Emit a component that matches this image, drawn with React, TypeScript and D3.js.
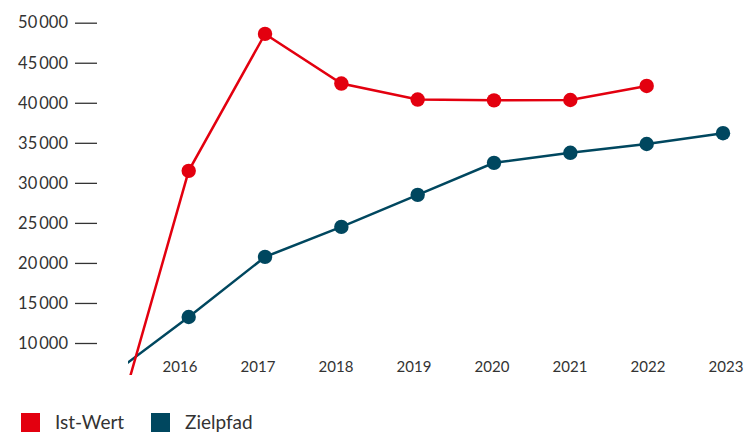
import React, { useEffect, useRef } from 'react';
import * as d3 from 'd3';

// years shown on the axis, plus 2015 where both lines start (clipped)
const years = [2015, 2016, 2017, 2018, 2019, 2020, 2021, 2022, 2023];
const labelYears = [2016, 2017, 2018, 2019, 2020, 2021, 2022, 2023];
const istWert = [-2000, 31500, 48600, 42400, 40400, 40300, 40350, 42100, null];
const zielpfad = [6100, 13250, 20750, 24500, 28500, 32500, 33750, 34850, 36200];
const yTicks = [10000, 15000, 20000, 25000, 30000, 35000, 40000, 45000, 50000];

const RED = '#e3000f';
const BLUE = '#00475f';
const TEXT = '#333333';
const FONT = 'Lato, "Open Sans", sans-serif';

export default function App() {
  const ref = useRef<SVGSVGElement | null>(null);

  useEffect(() => {
    const svg = d3.select(ref.current);
    svg.selectAll('*').remove();

    const W = 744;
    const x = d3.scaleLinear().domain([2016, 2023]).range([188.7, 723]);
    const xLabel = d3.scaleLinear().domain([2016, 2023]).range([179.5, 725.5]);
    const y = d3.scaleLinear().domain([10000, 50000]).range([343, 22.7]);

    svg.append('defs').append('clipPath').attr('id', 'plotClip')
      .append('rect').attr('x', 128).attr('y', 0).attr('width', W - 128).attr('height', 375);

    // y axis
    const yAxis = svg.append('g')
      .attr('transform', 'translate(97,0)')
      .call(d3.axisLeft(y).tickValues(yTicks).tickSize(22).tickPadding(7)
        .tickFormat(d => d3.format(',')(d as number).replace(',', '\u2009')));
    yAxis.select('.domain').remove();
    yAxis.selectAll('.tick line').attr('stroke', TEXT).attr('stroke-width', 1.3);
    yAxis.selectAll('text')
      .attr('fill', TEXT).style('font-family', FONT).style('font-size', '16.5px');

    // x axis labels
    const xAxis = svg.append('g')
      .attr('transform', 'translate(0,361)')
      .call(d3.axisBottom(xLabel).tickValues(labelYears).tickSize(0).tickPadding(0)
        .tickFormat(d => String(d)));
    xAxis.select('.domain').remove();
    xAxis.selectAll('text')
      .attr('fill', TEXT).style('font-family', FONT).style('font-size', '15px');

    const series = [
      { name: 'Zielpfad', values: zielpfad, color: BLUE },
      { name: 'Ist-Wert', values: istWert, color: RED },
    ];

    const plot = svg.append('g').attr('clip-path', 'url(#plotClip)');

    series.forEach(s => {
      const pts = years
        .map((yr, i) => ({ yr, v: s.values[i] }))
        .filter(p => p.v !== null) as { yr: number; v: number }[];
      const line = d3.line<{ yr: number; v: number }>().x(p => x(p.yr)).y(p => y(p.v));
      plot.append('path').datum(pts)
        .attr('fill', 'none').attr('stroke', s.color).attr('stroke-width', 2.5)
        .attr('d', line);
      plot.selectAll(null)
        .data(pts.filter(p => p.yr >= 2016)).enter().append('circle')
        .attr('cx', p => x(p.yr)).attr('cy', p => y(p.v)).attr('r', 7.2)
        .attr('fill', s.color);
    });

    // legend
    const legend = [
      { name: 'Ist-Wert', color: RED, x: 21 },
      { name: 'Zielpfad', color: BLUE, x: 151 },
    ];
    const lg = svg.append('g');
    legend.forEach(l => {
      lg.append('rect').attr('x', l.x).attr('y', 413).attr('width', 19).attr('height', 19).attr('fill', l.color);
      lg.append('text').attr('x', l.x + 34).attr('y', 429)
        .attr('fill', TEXT).style('font-family', FONT).style('font-size', '19px')
        .text(l.name);
    });
  }, []);

  return (
    <div style={{ position: 'absolute', left: 0, top: 0 }}>
      <svg ref={ref} width={744} height={432} style={{ display: 'block', background: '#fff' }} />
    </div>
  );
}
